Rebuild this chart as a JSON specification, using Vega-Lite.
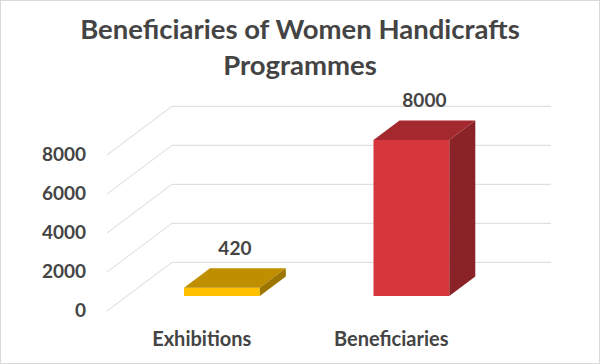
{
  "$schema": "https://vega.github.io/schema/vega-lite/v6.json",
  "width": 600,
  "height": 364,
  "autosize": {"type": "none"},
  "padding": 0,
  "background": "white",
  "config": {
    "view": {"stroke": "#d9d9d9", "strokeWidth": 2},
    "font": "Lato",
    "text": {"font": "Lato", "fontWeight": "bold", "fontSize": 19, "fill": "#444444"}
  },
  "title": {
    "text": ["Beneficiaries of Women Handicrafts", "Programmes"],
    "font": "Lato",
    "fontSize": 27.5,
    "fontWeight": "bold",
    "color": "#444444",
    "anchor": "middle",
    "frame": "group",
    "baseline": "top",
    "lineHeight": 36,
    "offset": -80
  },
  "datasets": {
    "bars": [
      {"category": "Exhibitions", "value": 420},
      {"category": "Beneficiaries", "value": 8000}
    ],
    "ticks": [{"tick": 0}, {"tick": 2000}, {"tick": 4000}, {"tick": 6000}, {"tick": 8000}]
  },
  "resolve": {"scale": {"color": "independent"}},
  "layer": [
    {
      "data": {"name": "ticks"},
      "transform": [{"calculate": "datum.tick - 2500", "as": "vf"}],
      "mark": {"type": "rule", "stroke": "#d9d9d9", "strokeWidth": 1},
      "encoding": {
        "x": {"datum": -0.343, "type": "quantitative", "scale": {"domain": [-0.9077, 2.2586], "nice": false, "zero": false}, "axis": null},
        "x2": {"datum": 0},
        "y": {"field": "vf", "type": "quantitative", "scale": {"domain": [-5215, 13451], "nice": false, "zero": false}, "axis": null},
        "y2": {"field": "tick"}
      }
    },
    {
      "data": {"name": "ticks"},
      "mark": {"type": "rule", "stroke": "#d9d9d9", "strokeWidth": 1},
      "encoding": {
        "x": {"datum": 0, "type": "quantitative"},
        "x2": {"datum": 2},
        "y": {"field": "tick", "type": "quantitative"}
      }
    },
    {
      "data": {"name": "ticks"},
      "transform": [{"calculate": "datum.tick - 2500", "as": "vf"}],
      "mark": {"type": "text", "align": "right", "baseline": "middle", "dx": -21},
      "encoding": {
        "x": {"datum": -0.343, "type": "quantitative"},
        "y": {"field": "vf", "type": "quantitative"},
        "text": {"field": "tick", "type": "quantitative", "format": "d"}
      }
    },
    {
      "data": {"name": "bars"},
      "transform": [
        {"window": [{"op": "row_number", "as": "idx"}]},
        {"calculate": "datum.idx - 0.7 - 0.343 * 0.69", "as": "xl"},
        {"calculate": "datum.idx - 0.3 - 0.343 * 0.69", "as": "xr"},
        {"calculate": "-2500 * 0.69", "as": "yb"},
        {"calculate": "datum.value - 2500 * 0.69", "as": "yt"}
      ],
      "mark": {"type": "rect"},
      "encoding": {
        "x": {"field": "xl", "type": "quantitative"},
        "x2": {"field": "xr"},
        "y": {"field": "yb", "type": "quantitative"},
        "y2": {"field": "yt"},
        "color": {"field": "category", "type": "nominal", "scale": {"domain": ["Exhibitions", "Beneficiaries"], "range": ["#FFC000", "#D5373D"]}, "legend": null}
      }
    },
    {
      "data": {"name": "bars"},
      "transform": [
        {"window": [{"op": "row_number", "as": "idx"}]},
        {"calculate": "0.69", "as": "dF"},
        {"calculate": "0.29", "as": "dB"},
        {"fold": ["dF", "dB"], "as": ["face", "d"]},
        {"calculate": "datum.idx - 0.7 - 0.343 * datum.d", "as": "xl"},
        {"calculate": "datum.idx - 0.3 - 0.343 * datum.d", "as": "xr"},
        {"calculate": "datum.value - 2500 * datum.d", "as": "yt"}
      ],
      "mark": {"type": "area", "orient": "horizontal"},
      "encoding": {
        "y": {"field": "yt", "type": "quantitative"},
        "x": {"field": "xl", "type": "quantitative"},
        "x2": {"field": "xr"},
        "detail": {"field": "category"},
        "color": {"field": "category", "type": "nominal", "scale": {"domain": ["Exhibitions", "Beneficiaries"], "range": ["#BF8F00", "#A3292F"]}, "legend": null}
      }
    },
    {
      "data": {"name": "bars"},
      "transform": [
        {"window": [{"op": "row_number", "as": "idx"}]},
        {"calculate": "0.69", "as": "dF"},
        {"calculate": "0.29", "as": "dB"},
        {"fold": ["dF", "dB"], "as": ["face", "d"]},
        {"calculate": "datum.idx - 0.3 - 0.343 * datum.d", "as": "xs"},
        {"calculate": "-2500 * datum.d", "as": "yb"},
        {"calculate": "datum.value - 2500 * datum.d", "as": "yt"}
      ],
      "mark": {"type": "area", "orient": "vertical"},
      "encoding": {
        "x": {"field": "xs", "type": "quantitative"},
        "y": {"field": "yb", "type": "quantitative"},
        "y2": {"field": "yt"},
        "detail": {"field": "category"},
        "color": {"field": "category", "type": "nominal", "scale": {"domain": ["Exhibitions", "Beneficiaries"], "range": ["#9C7600", "#8A2328"]}, "legend": null}
      }
    },
    {
      "data": {"name": "bars"},
      "transform": [
        {"window": [{"op": "row_number", "as": "idx"}]},
        {"calculate": "datum.idx - 0.5 - 0.343 * 0.49", "as": "xc"},
        {"calculate": "datum.value - 2500 * 0.49", "as": "yc"}
      ],
      "mark": {"type": "text", "align": "center", "baseline": "middle", "dy": -29},
      "encoding": {
        "x": {"field": "xc", "type": "quantitative"},
        "y": {"field": "yc", "type": "quantitative"},
        "text": {"field": "value", "type": "quantitative", "format": "d"}
      }
    },
    {
      "data": {"name": "bars"},
      "transform": [
        {"window": [{"op": "row_number", "as": "idx"}]},
        {"calculate": "datum.idx - 0.5 - 0.343", "as": "xc"},
        {"calculate": "-2500", "as": "yc"}
      ],
      "mark": {"type": "text", "align": "center", "baseline": "middle", "dy": 29, "fontSize": 20},
      "encoding": {
        "x": {"field": "xc", "type": "quantitative"},
        "y": {"field": "yc", "type": "quantitative"},
        "text": {"field": "category", "type": "nominal"}
      }
    }
  ]
}
